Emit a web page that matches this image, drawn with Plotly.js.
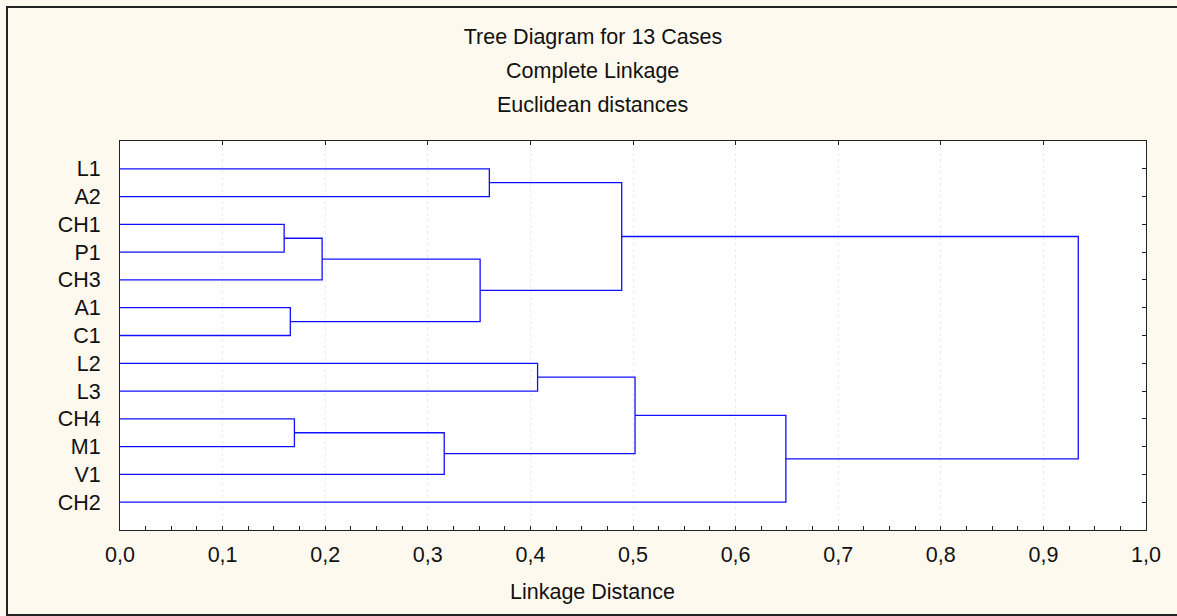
<!DOCTYPE html>
<html>
<head>
<meta charset="utf-8">
<script src="https://cdn.plot.ly/plotly-3.0.1.min.js"></script>
<style>
  html, body { margin: 0; padding: 0; background: #fdf9ee; overflow: hidden; }
  #wrap { position: relative; width: 1177px; height: 616px; overflow: hidden; }
  #chart { width: 1177px; height: 616px; }
  #frame { position: absolute; left: 6px; top: 6px; width: 1200px; height: 606px;
           border-left: 2.5px solid #222; border-top: 2.5px solid #222; border-bottom: 2.5px solid #222;
           pointer-events: none; }
</style>
</head>
<body>
<div id="wrap">
  <div id="chart"></div>
  <div id="frame"></div>
</div>
<script>
// Leaves (cases), top to bottom
const leaves = ['L1', 'A2', 'CH1', 'P1', 'CH3', 'A1', 'C1', 'L2', 'L3', 'CH4', 'M1', 'V1', 'CH2'];
// Merge steps (cluster ids: leaves 0..12, merges 13..24 in order)
const mergeLeft   = [2, 5, 9, 13, 15, 16, 0, 7, 19, 20, 22, 21];
const mergeRight  = [3, 6, 10, 4, 11, 14, 1, 8, 18, 17, 12, 23];
const mergeHeight = [0.160, 0.166, 0.170, 0.197, 0.316, 0.351, 0.360, 0.407, 0.489, 0.502, 0.649, 0.934];

const titleLines = ['Tree Diagram for 13 Cases', 'Complete Linkage', 'Euclidean distances'];
const xTitle = 'Linkage Distance';

// Build dendrogram path from the linkage data
const n = leaves.length;
const pos = [], hgt = [];
for (let i = 0; i < n; i++) { pos.push(i + 1); hgt.push(0); }
const xs = [], ys = [];
for (let k = 0; k < mergeLeft.length; k++) {
  const a = mergeLeft[k], b = mergeRight[k], h = mergeHeight[k];
  xs.push(hgt[a], h, h, hgt[b], null);
  ys.push(pos[a], pos[a], pos[b], pos[b], null);
  pos.push((pos[a] + pos[b]) / 2);
  hgt.push(h);
}

const font = { family: 'Arial, "Liberation Sans", sans-serif', size: 21.5, color: '#111' };

const traces = [
  { x: xs, y: ys, type: 'scatter', mode: 'lines', line: { color: '#1010ff', width: 1.3 },
    hoverinfo: 'skip', showlegend: false, xaxis: 'x', yaxis: 'y' },
  { x: [0], y: [1], type: 'scatter', mode: 'markers', marker: { opacity: 0 },
    hoverinfo: 'skip', showlegend: false, xaxis: 'x', yaxis: 'y2' },
  { x: [0], y: [1], type: 'scatter', mode: 'markers', marker: { opacity: 0 },
    hoverinfo: 'skip', showlegend: false, xaxis: 'x2', yaxis: 'y' }
];

const tickPos = leaves.map((_, i) => i + 1);

const layout = {
  width: 1177, height: 616,
  paper_bgcolor: '#fdf9ee',
  plot_bgcolor: '#ffffff',
  separators: ',.',
  font: font,
  margin: { l: 120, r: 31, t: 141, b: 86 },
  title: { text: titleLines[0], font: font, x: 0.5038, xref: 'container', xanchor: 'center',
           y: 1 - 36.7 / 616, yref: 'container', yanchor: 'middle' },
  xaxis: {
    range: [0, 1], dtick: 0.1, tick0: 0, tickformat: '.1f',
    ticks: 'inside', ticklen: 4, tickcolor: '#222', tickwidth: 1,
    minor: { dtick: 0.025, ticks: 'inside', ticklen: 4, tickcolor: '#222', showgrid: false },
    showline: true, linecolor: '#222', linewidth: 1, mirror: true,
    showgrid: true, gridcolor: '#ececec', griddash: 'dot', gridwidth: 1,
    zeroline: false, ticklabelstandoff: 5, tickfont: font
  },
  xaxis2: {
    overlaying: 'x', side: 'top', matches: 'x', range: [0, 1], dtick: 0.1, tick0: 0,
    ticks: 'inside', ticklen: 4, tickcolor: '#222', showticklabels: false,
    showgrid: false, zeroline: false, showline: false
  },
  yaxis: {
    range: [14, 0], tickvals: tickPos, ticktext: leaves, ticks: '',
    showline: true, linecolor: '#222', linewidth: 1, mirror: true,
    showgrid: false, zeroline: false, ticklabelstandoff: 14, tickfont: font
  },
  yaxis2: {
    overlaying: 'y', side: 'right', range: [14, 0], tickvals: tickPos,
    ticks: 'inside', ticklen: 4, tickcolor: '#222', showticklabels: false,
    showgrid: false, zeroline: false, showline: false
  },
  annotations: [
    { text: titleLines[1], xref: 'paper', yref: 'paper', x: 0.461, y: (530 - 70.7) / 389,
      xanchor: 'center', yanchor: 'middle', showarrow: false, font: font },
    { text: titleLines[2], xref: 'paper', yref: 'paper', x: 0.461, y: (530 - 105) / 389,
      xanchor: 'center', yanchor: 'middle', showarrow: false, font: font },
    { text: xTitle, xref: 'paper', yref: 'paper', x: 0.461, y: (530 - 592) / 389,
      xanchor: 'center', yanchor: 'middle', showarrow: false, font: font }
  ]
};

Plotly.newPlot('chart', traces, layout, { displayModeBar: false, staticPlot: true });
</script>
</body>
</html>
